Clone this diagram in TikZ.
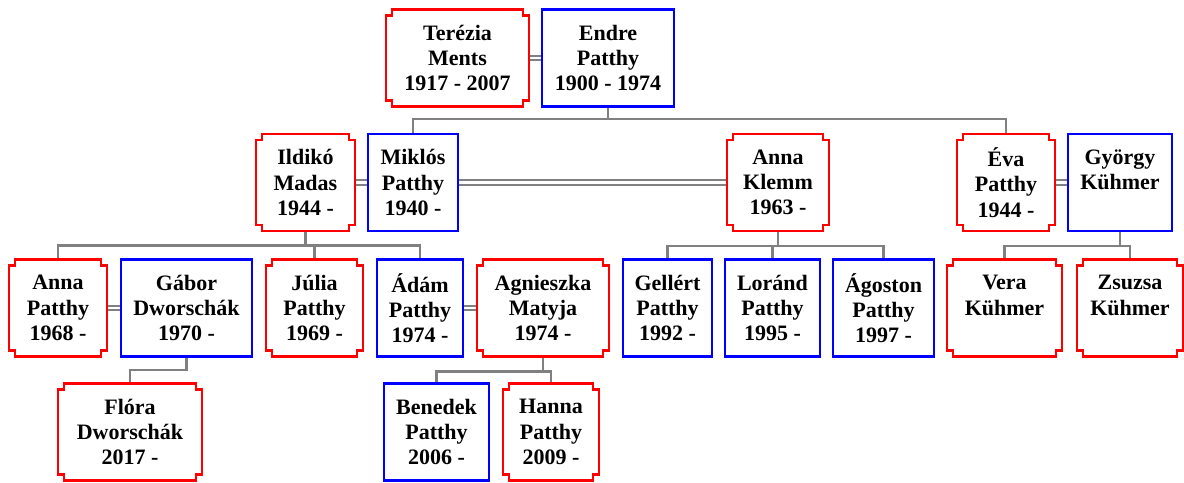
\documentclass[tikz,border=0pt]{standalone}
\usepackage{fontspec}
\setmainfont{Liberation Serif}
\usetikzlibrary{backgrounds}

\tikzset{
    person/.style = {inner sep = 0pt, outer sep = 0pt, minimum height = 72.75pt, align = center,
        font = \bfseries\fontsize{16.5}{19}\selectfont},
    male/.style = {person, draw = blue, line width = 1.8pt},
    female/.style = {person},
    notched/.style = {draw = red, line width = 1.8pt},
    kin/.style = {draw = gray, line width = 1.8pt},
    spouse/.style = {draw = gray, line width = 1.5pt, double = white, double distance = 1.6pt},
}

\begin{document}
\begin{tikzpicture}[x = 0.75pt, y = -0.75pt]
    \useasboundingbox (0, 0) rectangle (1184, 482);

    % grandparents
    \node [female, minimum width = 107.25pt] (terezia) at (457.5, 58) {Terézia\\Ments\\1917 - 2007};
    \node [male, minimum width = 99pt] (endre) at (608, 58) {Endre\\Patthy\\1900 - 1974};

    % children and their spouses
    \node [female, minimum width = 74.25pt] (ildiko) at (305.5, 182.5) {Ildikó\\Madas\\1944 -};
    \node [male, minimum width = 67.5pt] (miklos) at (413, 182.5) {Miklós\\Patthy\\1940 -};
    \node [female, minimum width = 76.5pt] (annak) at (778, 182.5) {Anna\\Klemm\\1963 -};
    \node [female, minimum width = 73.5pt] (eva) at (1006, 182.5) {Éva\\Patthy\\1944 -};
    \node [male, minimum width = 78pt] (gyorgy) at (1120, 182.5) {György\\Kühmer\\\phantom{0}};

    % grandchildren
    \node [female, minimum width = 73.5pt] (annap) at (58, 308) {Anna\\Patthy\\1968 -};
    \node [male, minimum width = 98.25pt] (gabor) at (186.5, 308) {Gábor\\Dworschák\\1970 -};
    \node [female, minimum width = 72.75pt] (julia) at (314.5, 308) {Júlia\\Patthy\\1969 -};
    \node [male, minimum width = 64.5pt] (adam) at (420, 308) {Ádám\\Patthy\\1974 -};
    \node [female, minimum width = 99pt] (agnieszka) at (543, 308) {Agnieszka\\Matyja\\1974 -};
    \node [male, minimum width = 66.75pt] (gellert) at (667.5, 308) {Gellért\\Patthy\\1992 -};
    \node [male, minimum width = 71.25pt] (lorand) at (772.5, 308) {Loránd\\Patthy\\1995 -};
    \node [male, minimum width = 75.75pt] (agoston) at (883.5, 308) {Ágoston\\Patthy\\1997 -};
    \node [female, minimum width = 86.25pt] (vera) at (1004.5, 308) {Vera\\Kühmer\\\phantom{0}};
    \node [female, minimum width = 79.5pt] (zsuzsa) at (1130, 308) {Zsuzsa\\Kühmer\\\phantom{0}};

    % great-grandchildren
    \node [female, minimum width = 108pt] (flora) at (130, 432) {Flóra\\Dworschák\\2017 -};
    \node [male, minimum width = 78.75pt] (benedek) at (436.5, 432) {Benedek\\Patthy\\2006 -};
    \node [female, minimum width = 72pt] (hanna) at (551, 432) {Hanna\\Patthy\\2009 -};

    % notched frames of the women
    \foreach \n in {terezia, ildiko, annak, eva, annap, julia, agnieszka, vera, zsuzsa, flora, hanna} {
        \draw [notched] ([xshift = 4.5pt] \n.north west) -- ([xshift = 4.5pt, yshift = -4.5pt] \n.north west)
            -- ([yshift = -4.5pt] \n.north west) -- ([yshift = 4.5pt] \n.south west)
            -- ([xshift = 4.5pt, yshift = 4.5pt] \n.south west) -- ([xshift = 4.5pt] \n.south west)
            -- ([xshift = -4.5pt] \n.south east) -- ([xshift = -4.5pt, yshift = 4.5pt] \n.south east)
            -- ([yshift = 4.5pt] \n.south east) -- ([yshift = -4.5pt] \n.north east)
            -- ([xshift = -4.5pt, yshift = -4.5pt] \n.north east) -- ([xshift = -4.5pt] \n.north east)
            -- cycle;
    }

    \begin{scope}[on background layer]
        \foreach \a/\b in {terezia/endre, ildiko/miklos, miklos/annak, eva/gyorgy, annap/gabor, adam/agnieszka} {
            \draw [spouse] (\a.east) -- (\b.west);
        }
        \foreach \kid in {miklos, eva} {
            \draw [kin] (endre.south) -- ++(0, 12.5) -| (\kid.north);
        }
        \foreach \kid in {annap, julia, adam} {
            \draw [kin] (ildiko.south) -- ++(0, 14.5) -| (\kid.north);
        }
        \foreach \kid in {gellert, lorand, agoston} {
            \draw [kin] (annak.south) -- ++(0, 15) -| (\kid.north);
        }
        \foreach \kid in {vera, zsuzsa} {
            \draw [kin] (gyorgy.south) -- ++(0, 15) -| (\kid.north);
        }
        \draw [kin] (gabor.south) -- ++(0, 13.5) -| (flora.north);
        \foreach \kid in {benedek, hanna} {
            \draw [kin] (agnieszka.south) -- ++(0, 15) -| (\kid.north);
        }
    \end{scope}
\end{tikzpicture}
\end{document}
